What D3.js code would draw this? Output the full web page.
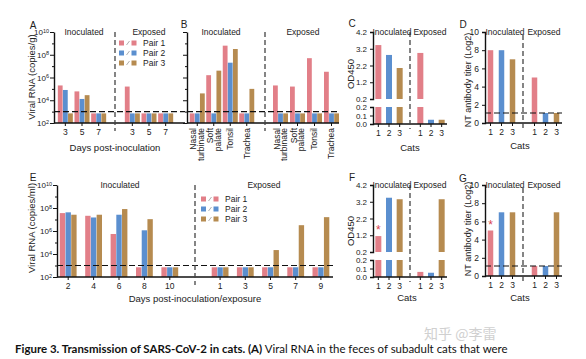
<!DOCTYPE html>
<html><head><meta charset="utf-8">
<script src="https://cdn.jsdelivr.net/npm/d3@7"></script>
<style>
body{margin:0;background:#fff}
svg text{font-family:"Liberation Sans",Arial,sans-serif;fill:#222}
</style></head><body>
<svg id="c" width="586" height="359"></svg>
<script>
// ---------------- DATA ----------------
const pairs = ["Pair 1","Pair 2","Pair 3"];
const colors = ["#e27f88","#5b8fcf","#b68b50"];
// Panel A: viral RNA in feces (copies/g)
const aDays = ["3","5","7"];
const aInoc = [[2.0e5,8.0e4,7e2],[6.0e4,1.3e4,2.8e4],[7e2,7e2,7e2]];
const aExpo = [[1.6e5,7e2,7e2],[7e2,7e2,7e2],[7e2,7e2,7e2]];
// Panel B: tissues
const bTissues = [["Nasal","turbinate"],["Soft","palate"],["Tonsil"],["Trachea"]];
const bInoc = [[7e2,7e2,4e4],[1.6e6,7e2,4e6],[6.3e8,2e7,3.2e8],[7e2,7e2,1e5]];
const bExpo = [[2e5,7e2,7e2],[1.6e5,7e2,7e2],[5e7,7e2,7e2],[3.2e6,7e2,7e2]];
const lodRNA = 1e3;
// Panel E: viral RNA (copies/ml)
const eInocDays = ["2","4","6","8","10"];
const eExpoDays = ["1","3","5","7","9"];
const eInoc = [[3.6e7,4.2e7,2.6e7],[2.1e7,1.5e7,2.6e7],[5.5e5,2.6e7,8.1e7],[7e2,1.15e6,1.07e7],[7e2,7e2,7e2]];
const eExpo = [[7e2,7e2,7e2],[7e2,7e2,7e2],[7e2,7e2,2.2e4],[7e2,7e2,3.2e6],[7e2,7e2,1.6e7]];
// Panels C,F: OD450
const cats = ["1","2","3"];
const odTicksUpper = [0.2,1.2,2.2,3.2,4.2];
const odTicksLower = [0.0,0.1,0.2];
const cInoc = [3.42,2.83,2.05], cExpo = [2.95,0.05,0.05];
const fInoc = [1.15,3.44,3.35], fExpo = [0.06,0.05,3.35];
// Panels D,G: NT antibody titer
const ntTicks = [0,2,4,6,8,10];
const dInoc = [8,8,7], dExpo = [5,1.1,1.1];
const gInoc = [5,7,7], gExpo = [1.1,1.1,7];
const ntLod = 1.1;
const captionBold = "Figure 3. Transmission of SARS-CoV-2 in cats. (A)";
const captionRest = " Viral RNA in the feces of subadult cats that were";
const watermark = "知乎 @李雷";

// ---------------- DRAWING ----------------
const svg = d3.select("#c");
function label(x,y,s,size,opts={}){
  const t = svg.append("text").attr("x",x).attr("y",y).attr("font-size",size)
    .attr("text-anchor",opts.anchor||"middle").text(s);
  if(opts.rotate) t.attr("transform",`rotate(-90,${x},${y})`);
  if(opts.weight) t.attr("font-weight",opts.weight);
  if(opts.fill) t.style("fill",opts.fill);
  return t;
}
function dashV(x,y1,y2){
  svg.append("line").attr("x1",x).attr("x2",x).attr("y1",y1).attr("y2",y2)
    .attr("stroke","#444").attr("stroke-width",1.3).attr("stroke-dasharray","5,3");
}
function dashH(x1,x2,y){
  svg.append("line").attr("x1",x1).attr("x2",x2).attr("y1",y).attr("y2",y)
    .attr("stroke","#111").attr("stroke-width",1.2).attr("stroke-dasharray","6,3");
}
function baseLine(x1,x2,y){
  svg.append("line").attr("x1",x1).attr("x2",x2).attr("y1",y).attr("y2",y)
    .attr("stroke","#111").attr("stroke-width",1.4);
}
function styleAxis(g,size){
  g.select(".domain").attr("stroke","#111").attr("stroke-width",1.4);
  g.selectAll(".tick line").attr("stroke","#111").attr("stroke-width",1);
  g.selectAll(".tick text").attr("font-size",size).attr("font-family",null).style("fill","#222");
}
function xAxis(scale,y,labels){
  const g = svg.append("g").attr("transform",`translate(0,${y})`)
    .call(d3.axisBottom(scale).tickSizeOuter(0).tickSize(3).tickPadding(3));
  g.select(".domain").remove();
  styleAxis(g,"8.5px");
  if(labels===false) g.selectAll(".tick text").remove();
  return g;
}

// Log-scale RNA panel
function logPanel(o){
  const y = d3.scaleLog().domain([1e2,1e10]).range([o.y0,o.yTop]);
  const decades = d3.range(2,11).map(e=>Math.pow(10,e));
  const ax = svg.append("g").attr("transform",`translate(${o.x0},0)`)
    .call(d3.axisLeft(y).tickValues(decades).tickSizeOuter(0).tickPadding(2).tickFormat(()=>""));
  styleAxis(ax,"8px");
  ax.selectAll(".tick line").attr("x2",d=>Math.round(Math.log10(d))%2===0?-4:-2);
  if(o.tickLabels){
    ax.selectAll(".tick text").each(function(d){
      const e = Math.round(Math.log10(d));
      if(e%2) return;
      const t = d3.select(this).text("10").attr("x",-5);
      t.append("tspan").attr("dy","-0.45em").attr("font-size","5.5px").text(e);
    });
  }
  o.sets.forEach(set=>{
    const gx = d3.scaleBand().domain(set.cats).range(set.range);
    const inner = d3.scaleBand().domain(d3.range(pairs.length)).range([-o.bw*1.5,o.bw*1.5]).paddingInner(0.06);
    set.data.forEach((vals,i)=>vals.forEach((v,j)=>{
      svg.append("rect")
        .attr("x",gx(set.cats[i])+gx.bandwidth()/2+inner(j))
        .attr("y",y(v)).attr("width",inner.bandwidth())
        .attr("height",o.y0-y(v)).attr("fill",colors[j]);
    }));
    const g = xAxis(gx,o.y0,!set.rotLabels);
    if(set.rotLabels){
      g.selectAll(".tick").each(function(d,i){
        const lines = set.rotLabels[i];
        const t = d3.select(this).append("text").attr("transform","rotate(-90)")
          .attr("x",-5).attr("y",0).attr("text-anchor","end").attr("font-size","8.5px").style("fill","#222");
        lines.forEach((ln,k)=>{
          t.append("tspan").attr("x",-5)
            .attr("dy",k===0?(lines.length===1?"0.35em":"-0.1em"):"0.9em").text(ln);
        });
      });
    }
  });
  baseLine(o.x0,o.xEnd,o.y0);
  dashH(o.x0,o.xEnd,y(lodRNA));
  dashV(o.sep,o.yTop,o.y0+8);
  return y;
}

// Panel A
logPanel({x0:54,xEnd:185,y0:123,yTop:32,bw:5,sep:115,tickLabels:true,
  sets:[{cats:aDays,range:[57,107],data:aInoc},{cats:aDays,range:[124,174],data:aExpo}]});
// Panel B
const bCats = bTissues.map(d=>d.join(" "));
logPanel({x0:187,xEnd:339,y0:123,yTop:32,bw:5,sep:265,tickLabels:false,
  sets:[{cats:bCats,range:[189,255],data:bInoc,rotLabels:bTissues},
        {cats:bCats,range:[272,340],data:bExpo,rotLabels:bTissues}]});
// Panel E
logPanel({x0:57,xEnd:333,y0:277,yTop:185,bw:5.6,sep:195,tickLabels:true,
  sets:[{cats:eInocDays,range:[55.5,182.5],data:eInoc},{cats:eExpoDays,range:[207.5,333.5],data:eExpo}]});

// Legends
function legend(x,y){
  pairs.forEach((p,i)=>{
    const yy = y+i*10;
    svg.append("rect").attr("x",x).attr("y",yy-2.5).attr("width",5).attr("height",5).attr("fill",colors[i]);
    svg.append("line").attr("x1",x+7.5).attr("x2",x+10.5).attr("y1",yy+2).attr("y2",yy-2).attr("stroke","#999").attr("stroke-width",0.8);
    svg.append("rect").attr("x",x+12.5).attr("y",yy-2.5).attr("width",5).attr("height",5).attr("fill",colors[i]);
    label(x+24,yy+3,p,"8.5px",{anchor:"start"});
  });
}
legend(119,43);
legend(201,199);

// OD450 broken-axis panel
function odPanel(o){
  const yU = d3.scaleLinear().domain([0.2,4.2]).range([o.y0-25,o.y0-92]);
  const yL = d3.scaleLinear().domain([0,0.2]).range([o.y0,o.y0-17]);
  [[yU,odTicksUpper],[yL,odTicksLower]].forEach(([sc,tv])=>{
    const g = svg.append("g").attr("transform",`translate(${o.x0},0)`)
      .call(d3.axisLeft(sc).tickValues(tv).tickFormat(d3.format(".1f")).tickSizeOuter(0).tickSize(3).tickPadding(3));
    styleAxis(g,"8px");
  });
  const barW = 6;
  [[o.inoc,o.rI],[o.expo,o.rE]].forEach(([vals,rng])=>{
    const gx = d3.scaleBand().domain(cats).range(rng);
    vals.forEach((v,j)=>{
      const x = gx(cats[j])+gx.bandwidth()/2-barW/2;
      const lv = Math.min(v,0.2);
      svg.append("rect").attr("x",x).attr("y",yL(lv)).attr("width",barW).attr("height",o.y0-yL(lv)).attr("fill",colors[j]);
      if(v>0.2) svg.append("rect").attr("x",x).attr("y",yU(v)).attr("width",barW).attr("height",yU(0.2)-yU(v)).attr("fill",colors[j]);
    });
    xAxis(gx,o.y0);
  });
  baseLine(o.x0,o.xEnd,o.y0);
  dashV(o.sep,o.y0-92,o.y0+5);
  if(o.star!=null){
    const gx = d3.scaleBand().domain(cats).range(o.rI);
    const v = o.inoc[o.star];
    label(gx(cats[o.star])+gx.bandwidth()/2, (v>0.2?yU(v):yL(v))-2,"*","12px",{fill:"#d9444f"});
  }
}
odPanel({x0:373,xEnd:447,y0:124,sep:410,rI:[373,405],rE:[415,447],inoc:cInoc,expo:cExpo});
odPanel({x0:373,xEnd:447,y0:277,sep:410,rI:[373,405],rE:[415,447],inoc:fInoc,expo:fExpo,star:0});

// NT antibody panel
function ntPanel(o){
  const y = d3.scaleLinear().domain([0,10]).range([o.y0,o.y0-91]);
  const g = svg.append("g").attr("transform",`translate(${o.x0},0)`)
    .call(d3.axisLeft(y).tickValues(ntTicks).tickSizeOuter(0).tickSize(3).tickPadding(3));
  styleAxis(g,"8.5px");
  const barW = 5.5;
  [[o.inoc,o.rI],[o.expo,o.rE]].forEach(([vals,rng])=>{
    const gx = d3.scaleBand().domain(cats).range(rng);
    vals.forEach((v,j)=>{
      svg.append("rect").attr("x",gx(cats[j])+gx.bandwidth()/2-barW/2).attr("y",y(v))
        .attr("width",barW).attr("height",o.y0-y(v)).attr("fill",colors[j]);
    });
    xAxis(gx,o.y0);
  });
  baseLine(o.x0,o.xEnd,o.y0);
  dashH(o.x0,o.xEnd,y(ntLod));
  dashV(o.sep,o.y0-88,o.y0+7);
  if(o.star!=null){
    const gx = d3.scaleBand().domain(cats).range(o.rI);
    label(gx(cats[o.star])+gx.bandwidth()/2, y(o.inoc[o.star])-2,"*","12px",{fill:"#d9444f"});
  }
}
ntPanel({x0:485,xEnd:562,y0:123,sep:523,rI:[485,518],rE:[529,562],inoc:dInoc,expo:dExpo});
ntPanel({x0:485,xEnd:562,y0:276,sep:523,rI:[485,518],rE:[529,562],inoc:gInoc,expo:gExpo,star:0});

// Headers
const hs = "8.5px";
[[84,35,"Inoculated"],[149,35,"Exposed"],[221,35,"Inoculated"],[303,35,"Exposed"],
 [392,35,"Inoculated"],[430,35,"Exposed"],[505,35,"Inoculated"],[544,35,"Exposed"],
 [120,188,"Inoculated"],[264,188,"Exposed"],
 [392,188,"Inoculated"],[430,188,"Exposed"],[505,188,"Inoculated"],[544,188,"Exposed"]]
 .forEach(([x,y,s])=>label(x,y,s,hs));
// Panel letters
[[33,29,"A"],[184,28,"B"],[352,27,"C"],[463,28,"D"],[33,181,"E"],[352,181,"F"],[463,182,"G"]]
 .forEach(([x,y,s])=>label(x,y,s,"10px"));
// Axis titles
label(115,151,"Days post-inoculation","9.5px");
label(410,151,"Cats","9.5px");
label(520,149,"Cats","9.5px");
label(195,302,"Days post-inoculation/exposure","9.5px");
label(407,301,"Cats","9.5px");
label(520,301,"Cats","9.5px");
label(35,77,"Viral RNA (copies/g)","9.5px",{rotate:true});
label(35,228,"Viral RNA (copies/ml)","9.5px",{rotate:true});
label(354,74,"OD450","9.5px",{rotate:true});
label(354,231,"OD450","9.5px",{rotate:true});
label(471,80,"NT antibody titer (Log2)","9px",{rotate:true});
label(471,229,"NT antibody titer (Log2)","9px",{rotate:true});

// Watermark
svg.append("text").attr("x",424).attr("y",339).attr("font-size","14px")
  .style("font-family","'Noto Sans CJK SC',sans-serif").style("fill","#d0d0d0").text(watermark);
// Caption
const cap = svg.append("text").attr("x",15).attr("y",353)
  .style("font-family","Lato,'Open Sans',sans-serif").attr("font-size","13px").style("fill","#111");
cap.append("tspan").attr("font-weight","bold").text(captionBold);
cap.append("tspan").text(captionRest);
const L = cap.node().getComputedTextLength();
cap.attr("font-size",(13*493/L).toFixed(2)+"px");
</script>
</body></html>
